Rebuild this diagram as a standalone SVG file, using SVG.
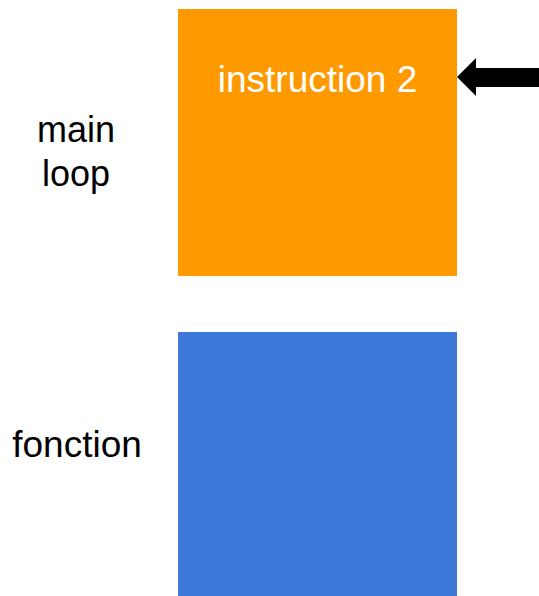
<svg xmlns="http://www.w3.org/2000/svg" width="539" height="596" viewBox="0 0 539 596">
<style>
.lbl{font-family:"Liberation Sans",Arial,sans-serif;font-size:36px;fill:#000;text-anchor:middle}
.in{font-family:"Liberation Sans",Arial,sans-serif;font-size:37px;fill:#fff;text-anchor:middle}
</style>
<rect width="539" height="596" fill="#fff"/>
<g id="label-main-loop">
<text class="lbl" x="76" y="142">main</text>
<text class="lbl" x="76" y="186">loop</text>
</g>
<g id="label-fonction">
<text class="lbl" x="77" y="457" style="font-size:37px">fonction</text>
</g>
<g id="main-loop">
<rect x="178" y="9" width="279" height="267" fill="#ff9900"/>
<text class="in" x="317.5" y="92">instruction 2</text>
</g>
<g id="fonction">
<rect x="178" y="332" width="279" height="264" fill="#3c78d8"/>
</g>
<g id="connectors">
<polygon points="457,77 476,58 476,68 539,68 539,87 476,87 476,96" fill="#000"/>
</g>
</svg>
